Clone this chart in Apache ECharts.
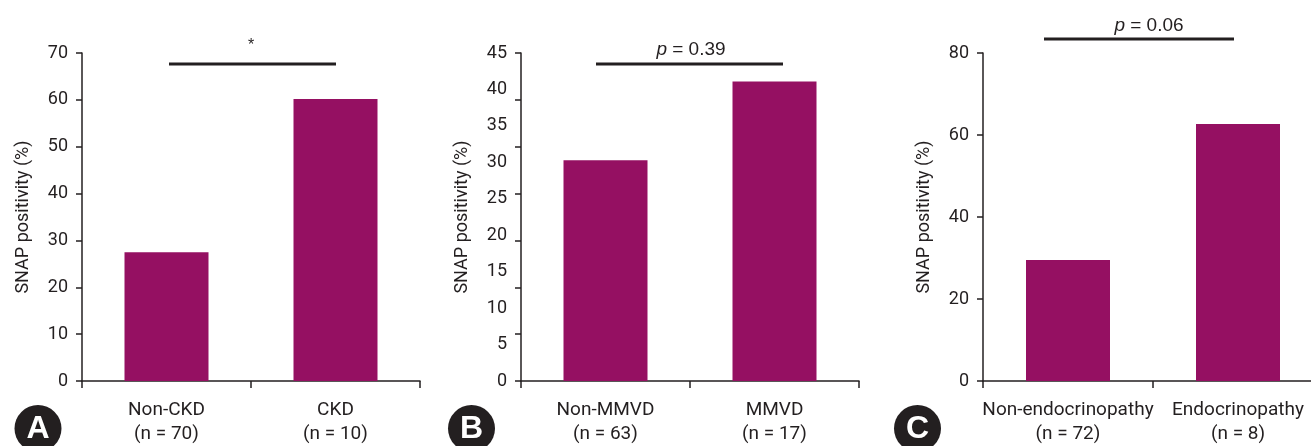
<!DOCTYPE html>
<html>
<head>
<meta charset="utf-8">
<script src="https://cdn.jsdelivr.net/npm/echarts@6/dist/echarts.min.js"></script>
<style>
html,body{margin:0;padding:0;background:#fff;overflow:hidden;width:1311px;height:446px;}
#chart{width:1330px;height:446px;}
</style>
</head>
<body>
<div id="chart"></div>
<script>
// ---- Data ----
const categoriesA = ['Non-CKD\n(n = 70)', 'CKD\n(n = 10)'];
const valuesA = [27.5, 60.2];
const categoriesB = ['Non-MMVD\n(n = 63)', 'MMVD\n(n = 17)'];
const valuesB = [30.3, 41.1];
const categoriesC = ['Non-endocrinopathy\n(n = 72)', 'Endocrinopathy\n(n = 8)'];
const valuesC = [29.5, 62.7];
const yMaxA = 70, yStepA = 10;
const yMaxB = 45, yStepB = 5;
const yMaxC = 80, yStepC = 20;
const yTitle = 'SNAP positivity (%)';
const panelLetters = ['A', 'B', 'C'];
const sigLabels = ['*', 'p = 0.39', 'p = 0.06'];

const INK = '#231f20';
const BAR = '#951062';
const FONT = 'Roboto';

const chart = echarts.init(document.getElementById('chart'), null, {renderer: 'canvas'});

function xAxisFor(gi, cats) {
  return {
    type: 'category', gridIndex: gi, data: cats,
    axisLine: {lineStyle: {color: INK, width: 1.5}},
    axisTick: {show: true, length: 7, lineStyle: {color: INK, width: 1.5}},
    axisLabel: {color: INK, fontFamily: FONT, fontSize: 19, lineHeight: 24, margin: 17, interval: 0}
  };
}
function yAxisFor(gi, max, step, showTick) {
  return {
    type: 'value', gridIndex: gi, min: 0, max: max, interval: step, position: 'left',
    name: yTitle, nameLocation: 'middle', nameRotate: 90, nameGap: 50,
    nameTextStyle: {color: INK, fontFamily: FONT, fontSize: 18},
    axisLine: {show: true, lineStyle: {color: INK, width: 1.5}},
    axisTick: {show: showTick, length: 6, lineStyle: {color: INK, width: 1.5}},
    axisLabel: {color: INK, fontFamily: FONT, fontSize: 18, margin: 14},
    splitLine: {show: false}
  };
}

const gridTop = 53, gridH = 332;
const option = {
  animation: false,
  backgroundColor: '#fff',
  grid: [
    {left: 82, top: gridTop, width: 338, height: gridH},
    {left: 521, top: gridTop, width: 338, height: gridH},
    {left: 983, top: gridTop, width: 340, height: gridH}
  ],
  xAxis: [xAxisFor(0, categoriesA), xAxisFor(1, categoriesB), xAxisFor(2, categoriesC)],
  yAxis: [
    yAxisFor(0, yMaxA, yStepA, true),
    yAxisFor(1, yMaxB, yStepB, false),
    yAxisFor(2, yMaxC, yStepC, true),
    // tick marks of panel B as printed in the source figure
    {type: 'value', gridIndex: 1, min: 0, max: 70, interval: 10, position: 'left', offset: 0,
     axisLine: {show: false}, axisLabel: {show: false}, splitLine: {show: false},
     axisTick: {show: true, length: 6, lineStyle: {color: INK, width: 1.5}}}
  ],
  series: [
    {type: 'bar', xAxisIndex: 0, yAxisIndex: 0, data: valuesA, barWidth: 84, itemStyle: {color: BAR}},
    {type: 'bar', xAxisIndex: 1, yAxisIndex: 1, data: valuesB, barWidth: 84, itemStyle: {color: BAR}},
    {type: 'bar', xAxisIndex: 2, yAxisIndex: 2, data: valuesC, barWidth: 84, itemStyle: {color: BAR}}
  ],
  graphic: []
};

// annotations: significance bars, labels, panel letters
const sig = [
  {x1: 169, x2: 336, y: 64, tx: 251, ty: 46},
  {x1: 596, x2: 783, y: 64, tx: 691, ty: 50},
  {x1: 1044, x2: 1234, y: 39, tx: 1149, ty: 26}
];
const circles = [{cx: 38, cy: 428.5}, {cx: 471.5, cy: 428.5}, {cx: 917.5, cy: 428.5}];
const g = [];
sig.forEach((s, i) => {
  g.push({type: 'line', shape: {x1: s.x1, y1: s.y, x2: s.x2, y2: s.y},
          style: {stroke: INK, lineWidth: 3}});
  if (i === 0) {
    g.push({type: 'text', x: s.tx, y: s.ty,
            style: {text: sigLabels[0], fill: INK, font: '16px "Liberation Sans"', align: 'center', verticalAlign: 'middle'}});
  } else {
    const parts = sigLabels[i].split(' = ');
    g.push({type: 'text', x: s.tx, y: s.ty,
            style: {text: '{i|' + parts[0] + '}{n| = ' + parts[1] + '}', align: 'center', verticalAlign: 'middle',
                    rich: {i: {fontFamily: 'Liberation Sans', fontStyle: 'italic', fontSize: 19, fill: INK, color: INK},
                           n: {fontFamily: 'Liberation Sans', fontSize: 19, fill: INK, color: INK}}}});
  }
});
circles.forEach((c, i) => {
  g.push({type: 'circle', shape: {cx: c.cx, cy: c.cy, r: 23.5}, style: {fill: INK}});
  g.push({type: 'text', x: c.cx, y: c.cy + 1,
          style: {text: panelLetters[i], fill: '#fff', stroke: INK, lineWidth: 1.5,
                  font: 'bold 32px "Liberation Sans"', align: 'center', verticalAlign: 'middle'}});
});
option.graphic = g;

chart.setOption(option);
</script>
</body>
</html>
